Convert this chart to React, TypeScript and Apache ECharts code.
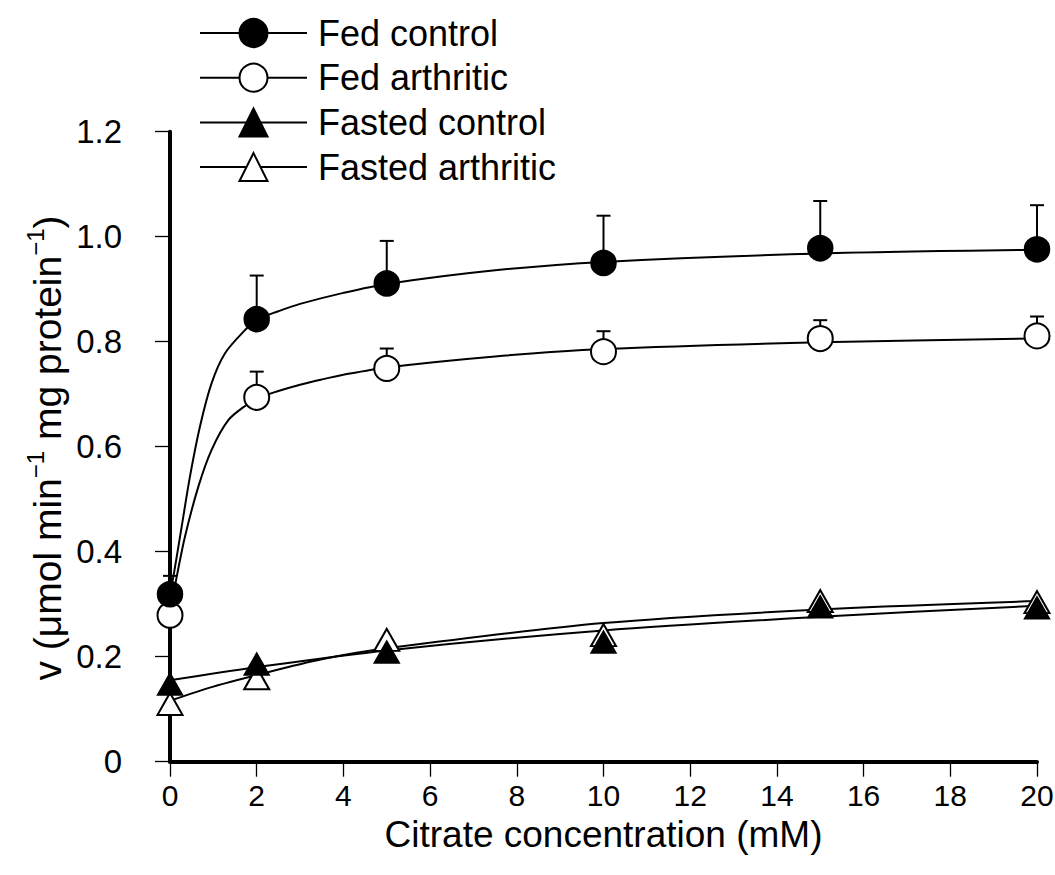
import { useEffect, useRef } from "react";
import * as echarts from "echarts";

// Citrate concentrations (mM) at which activity was measured
const concentrations = [0, 2, 5, 10, 15, 20];

// Mean activity, v (µmol min-1 mg protein-1)
const fedControl = [0.319, 0.843, 0.911, 0.95, 0.978, 0.976];
const fedArthritic = [0.279, 0.694, 0.749, 0.781, 0.806, 0.811];
const fastedControl = [0.148, 0.186, 0.209, 0.228, 0.295, 0.293];
const fastedArthritic = [0.11, 0.159, 0.232, 0.241, 0.306, 0.304];

// Upper end of the error bar (mean + SD); null where no bar is drawn
const fedControlUpper = [0.354, 0.926, 0.992, 1.04, 1.068, 1.06];
const fedArthriticUpper = [null, 0.743, 0.787, 0.82, 0.841, 0.848];

// Fitted saturation curves
const fedControlFitX = [0, 0.077, 0.27, 0.46, 0.69, 0.96, 1.27, 1.73, 2, 2.5, 3, 4, 5, 7.5, 10, 15, 20];
const fedControlFitY = [0.32, 0.352, 0.448, 0.543, 0.638, 0.721, 0.778, 0.822, 0.842, 0.858, 0.872, 0.893, 0.91, 0.936, 0.952, 0.968, 0.975];
const fedArthriticFitX = [0, 0.04, 0.154, 0.346, 0.654, 0.96, 1.35, 1.77, 2, 2.5, 3, 3.5, 4, 5, 7.5, 10, 15, 20];
const fedArthriticFitY = [0.285, 0.302, 0.352, 0.429, 0.524, 0.594, 0.651, 0.68, 0.692, 0.706, 0.718, 0.728, 0.737, 0.751, 0.772, 0.786, 0.799, 0.806];
const fastedControlFitX = [0, 2, 5, 10, 15, 20];
const fastedControlFitY = [0.155, 0.18, 0.212, 0.25, 0.276, 0.297];
const fastedArthriticFitX = [0, 1, 2, 3.5, 5, 10, 15, 20];
const fastedArthriticFitY = [0.116, 0.143, 0.165, 0.195, 0.216, 0.264, 0.29, 0.306];

const names = ["Fed control", "Fed arthritic", "Fasted control", "Fasted arthritic"];

const FONT = "'Liberation Sans', Arial, Helvetica, sans-serif";

const pairs = (xs: number[], ys: number[]) => xs.map((x, i) => [x, ys[i]]);

const filled = { color: "#000", borderColor: "#000", borderWidth: 1.5, opacity: 1 };
const open = { color: "#fff", borderColor: "#000", borderWidth: 2, opacity: 1 };

function fitSeries(name: string, xs: number[], ys: number[], symbol: string, style: any) {
  return {
    type: "line",
    name,
    data: pairs(xs, ys),
    smooth: 0.3,
    showSymbol: false,
    symbol,
    itemStyle: style,
    lineStyle: { color: "#000", width: 2 },
    silent: true,
    z: 2,
  };
}

function markerSeries(name: string, ys: number[], symbol: string, size: any, style: any) {
  return {
    type: "scatter",
    name,
    data: pairs(concentrations, ys),
    symbol,
    symbolSize: size,
    itemStyle: style,
    silent: true,
    z: 4,
  };
}

function errorSeries(name: string, means: number[], upper: (number | null)[]) {
  const data = concentrations
    .map((x, i) => (upper[i] == null ? null : [x, means[i], upper[i] as number]))
    .filter((d) => d !== null);
  return {
    type: "custom",
    name,
    data,
    encode: { x: 0, y: [1, 2] },
    silent: true,
    z: 3,
    renderItem: (_params: any, api: any) => {
      const x = api.value(0);
      const base = api.coord([x, api.value(1)]);
      const top = api.coord([x, api.value(2)]);
      const half = 7;
      const style = { stroke: "#000", lineWidth: 2 };
      return {
        type: "group",
        children: [
          { type: "line", shape: { x1: base[0], y1: base[1], x2: top[0], y2: top[1] }, style },
          { type: "line", shape: { x1: top[0] - half, y1: top[1], x2: top[0] + half, y2: top[1] }, style },
        ],
      };
    },
  };
}

export default function App() {
  const ref = useRef<HTMLDivElement>(null);

  useEffect(() => {
    if (!ref.current) return;
    const chart = echarts.init(ref.current, undefined, { renderer: "svg" });

    const option: any = {
      animation: false,
      backgroundColor: "#fff",
      textStyle: { fontFamily: FONT, color: "#000" },
      grid: { left: 170, right: 18, top: 131.7, bottom: 113.3, outerBoundsMode: "none", containLabel: false },
      legend: {
        data: names,
        orient: "vertical",
        left: 199,
        top: 15,
        padding: 0,
        itemWidth: 107,
        itemHeight: 35,
        itemGap: 8.7,
        selectedMode: false,
        textStyle: { fontSize: 36, lineHeight: 35, color: "#000", fontFamily: FONT, padding: [0, 0, 0, 6] },
      },
      xAxis: {
        type: "value",
        min: 0,
        max: 20,
        interval: 2,
        axisLine: { lineStyle: { color: "#000", width: 4 } },
        axisTick: { length: 15, lineStyle: { color: "#000", width: 1.3 } },
        axisLabel: { fontSize: 30, color: "#000", margin: 19, fontFamily: FONT },
        splitLine: { show: false },
        name: "Citrate concentration (mM)",
        nameLocation: "middle",
        nameGap: 47,
        nameTextStyle: { fontSize: 37, color: "#000", fontFamily: FONT },
      },
      yAxis: {
        type: "value",
        min: 0,
        max: 1.2,
        interval: 0.2,
        offset: 30,
        axisLine: { show: true, lineStyle: { color: "#000", width: 4 } },
        axisTick: { show: true, length: 15, lineStyle: { color: "#000", width: 1.3 } },
        axisLabel: {
          fontSize: 33,
          color: "#000",
          margin: 18,
          fontFamily: FONT,
          formatter: (v: number) => (v === 0 ? "0" : v.toFixed(1)),
        },
        splitLine: { show: false },
      },
      graphic: [
        {
          type: "text",
          x: 45,
          y: 448,
          rotation: Math.PI / 2,
          style: {
            text: "{a|v (μmol min}{s|−1}{a| mg protein}{s|−1}{a|)}",
            align: "center",
            verticalAlign: "middle",
            fill: "#000",
            rich: {
              a: { fontSize: 39, fontFamily: FONT, fill: "#000", lineHeight: 44, verticalAlign: "bottom" },
              s: { fontSize: 24, fontFamily: FONT, fill: "#000", lineHeight: 44, verticalAlign: "top" },
            },
          },
        },
      ],
      series: [
        fitSeries(names[0], fedControlFitX, fedControlFitY, "circle", filled),
        fitSeries(names[1], fedArthriticFitX, fedArthriticFitY, "circle", open),
        fitSeries(names[2], fastedControlFitX, fastedControlFitY, "triangle", filled),
        fitSeries(names[3], fastedArthriticFitX, fastedArthriticFitY, "triangle", open),
        errorSeries("Fed control SD", fedControl, fedControlUpper),
        errorSeries("Fed arthritic SD", fedArthritic, fedArthriticUpper),
        markerSeries(names[1], fedArthritic, "circle", 25, open),
        markerSeries(names[0], fedControl, "circle", 25, filled),
        markerSeries(names[3], fastedArthritic, "triangle", [25, 22], open),
        markerSeries(names[2], fastedControl, "triangle", [25, 22], filled),
      ],
    };

    chart.setOption(option);
    return () => chart.dispose();
  }, []);

  return (
    <div
      ref={ref}
      style={{ position: "fixed", left: 0, top: 0, width: 1055, height: 875 }}
    />
  );
}
